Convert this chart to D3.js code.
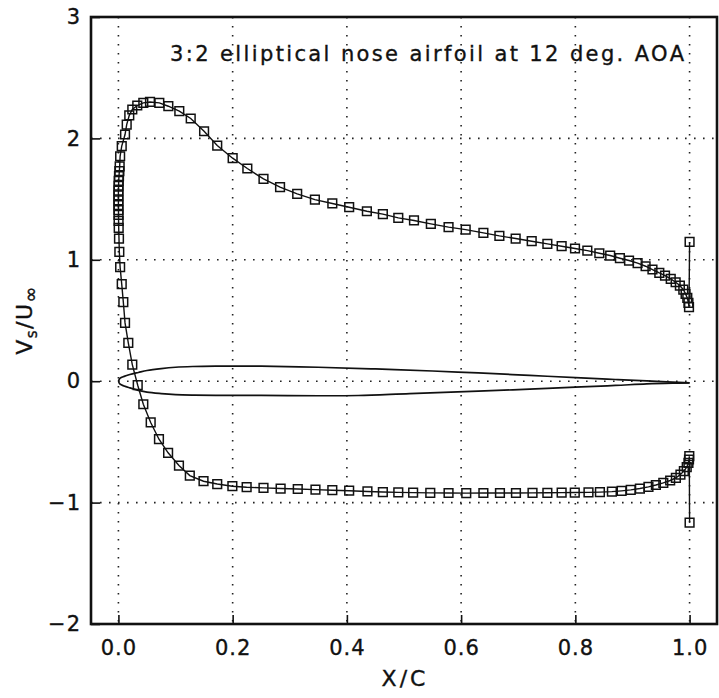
<!DOCTYPE html>
<html>
<head>
<meta charset="utf-8">
<script src="https://cdn.jsdelivr.net/npm/d3@7"></script>
<style>
  html, body { margin: 0; padding: 0; background: #fff; }
  svg { display: block; }
  text { font-family: "DejaVu Sans", sans-serif; fill: #111; stroke: #111; stroke-width: 0.35px; }
</style>
</head>
<body>
<svg id="chart" width="719" height="698"></svg>
<script>
// ---------------- data ----------------
const titleText = "3:2 elliptical nose airfoil at 12 deg. AOA";
const xTicks = [0.0, 0.2, 0.4, 0.6, 0.8, 1.0];
const yTicks = [-2, -1, 0, 1, 2, 3];
const xGrid = [0.0, 0.2, 0.4, 0.6, 0.8, 1.0];
const yGrid = [-1, 0, 1, 2];

// Surface velocity, ordered: lower trailing edge -> leading edge -> upper trailing edge
const surfX = [
  1.0, 0.9995, 0.999, 0.998, 0.995, 0.990, 0.984, 0.976, 0.966, 0.954,
  0.941, 0.928, 0.913, 0.897, 0.881, 0.864, 0.843, 0.823, 0.799, 0.776,
  0.751, 0.725, 0.696, 0.668, 0.639, 0.609, 0.578, 0.546, 0.516, 0.490,
  0.463, 0.436, 0.404, 0.3745, 0.345, 0.314, 0.284, 0.254, 0.2245, 0.1995,
  0.173, 0.149, 0.125, 0.106, 0.087, 0.071, 0.0565, 0.0436, 0.0338,
  0.0243, 0.0173, 0.0116, 0.0086, 0.0058, 0.003, 0.0016, 0.001, 0.0005,
  0.0003, 0.0002, 0.0001, 0.0, 0.0, 0.0, 0.0, 0.0003, 0.0005, 0.001, 0.0016, 0.0022,
  0.003, 0.0058, 0.0116, 0.0145, 0.019, 0.0243, 0.033, 0.0436, 0.0553, 0.0716,
  0.0874, 0.1066, 0.1266, 0.150, 0.173, 0.200, 0.2257, 0.254, 0.283, 0.313,
  0.344, 0.3745, 0.404, 0.435, 0.463, 0.490, 0.5175, 0.547, 0.578, 0.608,
  0.639, 0.667, 0.6955, 0.7236, 0.751, 0.776, 0.7994, 0.821, 0.842, 0.861,
  0.878, 0.894, 0.909, 0.923, 0.935, 0.947, 0.957, 0.967, 0.9756, 0.983,
  0.989, 0.993, 0.996, 0.998, 0.999, 1.0
];
const surfV = [
  -1.165, -0.618, -0.645, -0.673, -0.708, -0.741, -0.769, -0.796, -0.818, -0.838,
  -0.855, -0.870, -0.884, -0.895, -0.903, -0.910, -0.914, -0.916, -0.917, -0.918,
  -0.919, -0.920, -0.921, -0.921, -0.921, -0.922, -0.921, -0.920, -0.918, -0.916,
  -0.913, -0.908, -0.902, -0.898, -0.893, -0.888, -0.884, -0.879, -0.873, -0.865,
  -0.847, -0.824, -0.777, -0.695, -0.590, -0.478, -0.340, -0.190, -0.033,
  0.137, 0.316, 0.480, 0.651, 0.800, 0.939, 1.065, 1.175, 1.263,
  1.32, 1.37, 1.41, 1.45, 1.49, 1.53, 1.57, 1.61, 1.65, 1.69, 1.73, 1.77,
  1.853, 1.936, 2.032, 2.114, 2.19, 2.238, 2.271, 2.293, 2.300, 2.293,
  2.265, 2.224, 2.164, 2.059, 1.941, 1.837, 1.752, 1.666, 1.598, 1.543,
  1.496, 1.464, 1.433, 1.400, 1.376, 1.345, 1.324, 1.296, 1.269, 1.249,
  1.222, 1.197, 1.175, 1.153, 1.131, 1.112, 1.093, 1.076, 1.054, 1.035,
  1.013, 0.994, 0.972, 0.947, 0.920, 0.892, 0.870, 0.843, 0.815, 0.788,
  0.755, 0.719, 0.686, 0.645, 0.610, 1.147
];

// Airfoil outline (y/c)
const foilUpperX = [0, 0.003, 0.01, 0.02, 0.035, 0.05, 0.075, 0.1, 0.13, 0.17, 0.25, 0.35, 0.45, 0.55, 0.63, 0.72, 0.81, 0.87, 0.925, 0.97, 1.0];
const foilUpperY = [0, 0.025, 0.040, 0.055, 0.072, 0.088, 0.104, 0.115, 0.121, 0.124, 0.124, 0.115, 0.101, 0.084, 0.068, 0.048, 0.027, 0.014, 0.003, -0.007, -0.014];
const foilLowerX = [0, 0.003, 0.01, 0.02, 0.035, 0.05, 0.075, 0.1, 0.13, 0.17, 0.25, 0.35, 0.42, 0.51, 0.63, 0.72, 0.81, 0.87, 0.925, 0.97, 1.0];
const foilLowerY = [0, -0.025, -0.040, -0.055, -0.075, -0.090, -0.102, -0.110, -0.114, -0.116, -0.117, -0.120, -0.118, -0.102, -0.082, -0.065, -0.047, -0.035, -0.022, -0.016, -0.014];

// ---------------- drawing ----------------
const svg = d3.select("#chart");
const x = d3.scaleLinear().domain([-0.048, 1.048]).range([91, 717]);
const y = d3.scaleLinear().domain([-2, 3]).range([624, 17]);

// grid
const grid = svg.append("g").attr("stroke", "#222").attr("stroke-width", 1.6)
  .attr("stroke-dasharray", "1.6,7.4").attr("fill", "none");
grid.selectAll("line.v").data(xGrid).join("line").attr("class", "v")
  .attr("x1", d => x(d)).attr("x2", d => x(d)).attr("y1", y(3)).attr("y2", y(-2));
grid.selectAll("line.h").data(yGrid).join("line").attr("class", "h")
  .attr("x1", x.range()[0]).attr("x2", x.range()[1]).attr("y1", d => y(d)).attr("y2", d => y(d));

// axes
const yAxis = d3.axisLeft(y).tickValues(yTicks).tickSize(-9).tickPadding(11).tickFormat(d3.format("d"));
const xAxis = d3.axisBottom(x).tickValues(xTicks).tickSize(-9).tickPadding(16).tickFormat(d3.format(".1f"));
const gy = svg.append("g").attr("transform", `translate(${x.range()[0]},0)`).call(yAxis);
const gx = svg.append("g").attr("transform", `translate(0,${y.range()[0]})`).call(xAxis);
[gx, gy].forEach(g => {
  g.select(".domain").remove();
  g.selectAll(".tick line").attr("stroke", "#111").attr("stroke-width", 1.6);
  g.selectAll(".tick text").attr("font-family", "DejaVu Sans, sans-serif")
    .attr("font-size", 21).attr("fill", "#111").style("letter-spacing", "1px");
});
gy.selectAll(".tick text").attr("dx", 1);

// frame
svg.append("rect")
  .attr("x", x.range()[0]).attr("y", y.range()[1])
  .attr("width", x.range()[1] - x.range()[0]).attr("height", y.range()[0] - y.range()[1])
  .attr("fill", "none").attr("stroke", "#111").attr("stroke-width", 2.6);

// airfoil outline
const foilLine = d3.line().x(d => x(d[0])).y(d => y(d[1])).curve(d3.curveCatmullRom.alpha(0.5));
const upper = foilUpperX.map((v, i) => [v, foilUpperY[i]]);
const lower = foilLowerX.map((v, i) => [v, foilLowerY[i]]);
svg.append("path").datum(upper).attr("d", foilLine).attr("fill", "none").attr("stroke", "#111").attr("stroke-width", 1.7);
svg.append("path").datum(lower).attr("d", foilLine).attr("fill", "none").attr("stroke", "#111").attr("stroke-width", 1.7);

// velocity distribution line + markers
const pts = surfX.map((v, i) => [v, surfV[i]]);
const line = d3.line().x(d => x(d[0])).y(d => y(d[1]));
svg.append("path").datum(pts).attr("d", line).attr("fill", "none").attr("stroke", "#111").attr("stroke-width", 1.4);
const sym = d3.symbol().type(d3.symbolSquare).size(76);
svg.append("g").selectAll("path").data(pts).join("path")
  .attr("transform", d => `translate(${x(d[0])},${y(d[1])})`)
  .attr("d", sym).attr("fill", "none").attr("stroke", "#111").attr("stroke-width", 1.5);

// title
svg.append("text").attr("x", 170).attr("y", 61)
  .attr("font-size", 21).attr("textLength", 514).attr("lengthAdjust", "spacing")
  .text(titleText);

// x label
svg.append("text").attr("x", 405).attr("y", 686).attr("text-anchor", "middle")
  .attr("font-size", 22).style("letter-spacing", "3px").text("X/C");

// y label
const yl = svg.append("text").attr("transform", "translate(32,320) rotate(-90)")
  .attr("text-anchor", "middle").attr("font-size", 22).style("letter-spacing", "1.5px");
yl.append("tspan").text("V");
yl.append("tspan").attr("dy", 5).attr("font-size", 15).text("s");
yl.append("tspan").attr("dy", -5).text("/U");
yl.append("tspan").attr("dy", 5).attr("font-size", 19).text("\u221E");
</script>
</body>
</html>
